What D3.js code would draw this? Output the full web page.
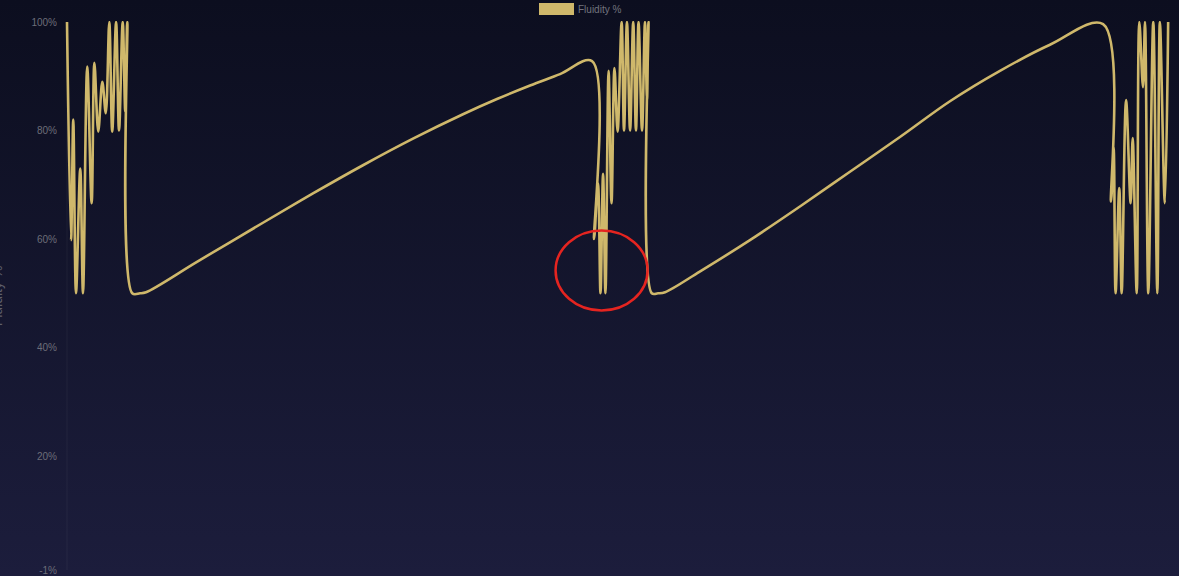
<!DOCTYPE html>
<html><head><meta charset="utf-8">
<script src="https://cdn.jsdelivr.net/npm/d3@7"></script>
<style>
html,body{margin:0;padding:0;background:#0d0f20;overflow:hidden;}
svg{display:block;}
</style></head><body>
<svg id="chart" width="1179" height="576"></svg>
<script>
// time (s) and fluidity (%) samples
const times = [
  0, 2.2, 3.4, 4.9, 7.2, 8.7, 11.0, 13.4, 14.9, 17.0, 19.2, 21.1, 23.0, 24.6, 26.7, 28.3, 30.3, 31.7, 32.8,
  35.5, 39.7, 43.0,
  70.7, 106.6, 133.8, 161.0, 188.2, 215.4, 233.9, 251.9, 268.2, 285.6,
  286.7, 288.8, 290.2, 291.6, 292.9, 294.6, 296.2, 297.8, 299.5, 301.7, 303.0, 304.6, 306.3, 308.0, 309.5, 310.9, 312.8, 314.4, 315.5, 316.3,
  318.1, 321.5, 325.3,
  344.2, 371.5, 398.7, 425.9, 453.1, 480.3, 507.5, 534.7, 563.6,
  567.9, 569.3, 570.4, 572.4, 573.7, 576.1, 578.6, 579.7, 581.9, 583.3, 585.3, 586.4, 588.2, 590.9, 593.1, 594.5, 597.2, 599.0
];
const fluidity = [
  100, 59.8, 82, 50, 73, 50, 91.8, 66.6, 92.5, 79.8, 89, 83.2, 100, 79.8, 100, 80, 100, 83.5, 100,
  50, 50, 50.2,
  55.8, 63.0, 68.4, 73.6, 78.5, 83.0, 85.8, 88.3, 90.4, 92.8,
  60, 70.3, 50, 72, 50, 91, 66.6, 91.5, 79.8, 100, 80, 100, 80, 100, 80, 100, 80, 100, 85.6, 100,
  50, 50, 50.2,
  54.0, 59.8, 66.0, 72.4, 78.8, 85.4, 91.0, 95.8, 99.6,
  66.9, 77, 50, 69.4, 50, 85.6, 66.6, 78.6, 50, 100, 88, 100, 50, 100, 50, 100, 66.6, 100
];
const yTicks = [100, 80, 60, 40, 20, -1];
const seriesName = "Fluidity %";
const yTitle = "Fluidity %";
const timeDomain = [0, 600];
const valueDomain = [-1, 100];
// highlighted region (data units)
const highlightTime = 290.8;
const highlightValue = 54.2;

const W = 1179, H = 576;
const plot = {left: 67, right: 1170, top: 22, bottom: 570};
const lineColor = "#cfb86b";

const svg = d3.select("#chart");
const defs = svg.append("defs");
const grad = defs.append("linearGradient").attr("id","bg").attr("x1",0).attr("y1",0).attr("x2",0).attr("y2",1);
grad.append("stop").attr("offset","0%").attr("stop-color","#0c0e1f");
grad.append("stop").attr("offset","100%").attr("stop-color","#1c1d3c");
svg.append("rect").attr("width",W).attr("height",H).attr("fill","url(#bg)");

defs.append("clipPath").attr("id","clip").append("rect")
  .attr("x", plot.left - 2).attr("y", plot.top - 1)
  .attr("width", W - plot.left + 2).attr("height", plot.bottom - plot.top + 10);

const x = d3.scaleLinear().domain(timeDomain).range([plot.left, plot.right]);
const y = d3.scaleLinear().domain(valueDomain).range([plot.bottom, plot.top]);

// faint left border
svg.append("line").attr("x1",plot.left).attr("x2",plot.left)
  .attr("y1",plot.top).attr("y2",plot.bottom)
  .attr("stroke","rgba(255,255,255,0.05)").attr("stroke-width",1);

const yAxis = d3.axisLeft(y).tickValues(yTicks).tickSize(0).tickPadding(10).tickFormat(d => d + "%");
const ga = svg.append("g").attr("transform", `translate(${plot.left},0)`).call(yAxis);
ga.select(".domain").remove();
ga.selectAll("text").attr("fill","#6c6d78").style("font-family","'Liberation Sans', Arial, sans-serif").style("font-size","10px");

// y title (mostly off-canvas, as in the reference)
svg.append("text")
  .attr("transform", `translate(2,${(plot.top+plot.bottom)/2}) rotate(-90)`)
  .attr("text-anchor","middle")
  .attr("fill","#5f606c")
  .style("font-family","'Liberation Sans', Arial, sans-serif")
  .style("font-size","14px")
  .text(yTitle);

const data = times.map((t,i) => ({t, v: fluidity[i]}));
const line = d3.line().x(d => x(d.t)).y(d => y(d.v)).curve(d3.curveCatmullRom.alpha(0.5));
svg.append("path").datum(data)
  .attr("clip-path","url(#clip)")
  .attr("d", line)
  .attr("fill","none")
  .attr("stroke", lineColor)
  .attr("stroke-width", 2.6)
  .attr("stroke-linejoin","round");

// legend
const lg = svg.append("g");
lg.append("rect").attr("x",539).attr("y",3).attr("width",35).attr("height",12).attr("fill",lineColor);
lg.append("text").attr("x",578).attr("y",9).attr("dy","0.35em")
  .attr("fill","#72737e")
  .style("font-family","'Liberation Sans', Arial, sans-serif").style("font-size","10px")
  .text(seriesName);

// red annotation ellipse
svg.append("ellipse")
  .attr("cx", x(highlightTime)).attr("cy", y(highlightValue))
  .attr("rx", 46).attr("ry", 40)
  .attr("fill","none").attr("stroke","#e52420").attr("stroke-width",2.5);
</script>
</body></html>
